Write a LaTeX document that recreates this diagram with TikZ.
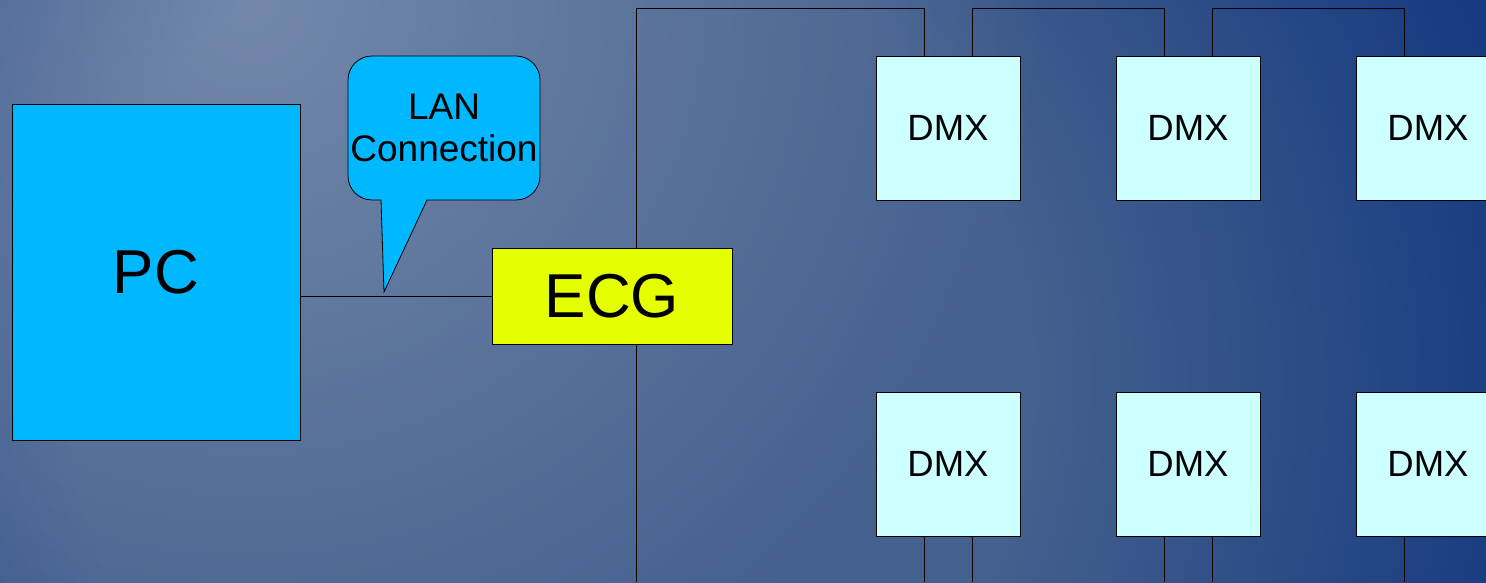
\documentclass[tikz,border=0pt]{standalone}
\usepackage{fontspec}
\setmainfont{Liberation Sans}
\usetikzlibrary{fadings,backgrounds}
\definecolor{bgmid}{HTML}{44608E}
\definecolor{bgdark}{HTML}{163A80}
\definecolor{pcblue}{HTML}{00B8FF}
\definecolor{ecgyellow}{HTML}{E6FF00}
\definecolor{dmxcyan}{HTML}{CCFFFF}
\pgfdeclareradialshading{bgrad}{\pgfpoint{0bp}{0bp}}{color(0bp)=(bgmid); color(12bp)=(bgmid); color(25bp)=(bgdark); color(50bp)=(bgdark)}
\tikzfading[name=spot, inner color=transparent!75, outer color=transparent!100]
\begin{document}
\begin{tikzpicture}[x=1pt,y=1pt,
  box/.style={draw=black, line width=0.8pt, inner sep=0pt, anchor=center},
  pcbox/.style={box, fill=pcblue, minimum width=288pt, minimum height=336pt, font=\fontsize{62}{62}\selectfont},
  ecgbox/.style={box, fill=ecgyellow, minimum width=240pt, minimum height=96pt, font=\fontsize{62}{62}\selectfont},
  dmxbox/.style={box, fill=dmxcyan, minimum width=144pt, minimum height=144pt, font=\fontsize{36.5}{36.5}\selectfont},
  wire/.style={draw=black, line width=0.9pt},
  callout/.style={draw=black, line width=0.8pt, fill=pcblue},
  lantext/.style={inner sep=0pt, align=center, font=\fontsize{37}{42.5}\selectfont}]
\useasboundingbox (0,0) rectangle (1486,582);

% nodes
\node[pcbox] (pc) at (156,310) {PC};
\node[ecgbox] (ecg) at (612,286) {ECG};
\node[dmxbox] (d1) at (948,454) {DMX};
\node[dmxbox] (d2) at (1188,454) {DMX};
\node[dmxbox] (d3) at (1428,454) {DMX};
\node[dmxbox] (d4) at (948,118) {DMX};
\node[dmxbox] (d5) at (1188,118) {DMX};
\node[dmxbox] (d6) at (1428,118) {DMX};

\coordinate (bus0) at (636,0);
\coordinate (bus1) at (636,574);

% callout
\draw[callout] (427,382) -- (516,382) arc[start angle=270, end angle=360, radius=24]
  -- (540,502) arc[start angle=0, end angle=90, radius=24]
  -- (372,526) arc[start angle=90, end angle=180, radius=24]
  -- (348,406) arc[start angle=180, end angle=270, radius=24]
  -- (381,382) -- (384,290) -- cycle;
\node[lantext] (lan) at (444,454) {LAN\\Connection};

\begin{scope}[on background layer]
  \begin{scope}
    \clip (0,0) rectangle (1486,582);
    \shade[shading=bgrad] (-450,-798) rectangle (1550,1202);
    \fill[white, path fading=spot] (250,582) circle (800);
  \end{scope}
  % wires
  \draw[wire] (ecg.west) -- (ecg.west -| pc.east);
  \draw[wire] (bus0) -- (bus1) -| ([xshift=-24pt]d1.north);
  \draw[wire] ([xshift=24pt]d1.north) -- ([xshift=24pt]d1.north |- bus1) -| ([xshift=-24pt]d2.north);
  \draw[wire] ([xshift=24pt]d2.north) -- ([xshift=24pt]d2.north |- bus1) -| ([xshift=-24pt]d3.north);
  \draw[wire] ([xshift=-24pt]d4.south) -- ([xshift=-24pt]d4.south |- bus0);
  \draw[wire] ([xshift=24pt]d4.south) -- ([xshift=24pt]d4.south |- bus0);
  \draw[wire] ([xshift=-24pt]d5.south) -- ([xshift=-24pt]d5.south |- bus0);
  \draw[wire] ([xshift=24pt]d5.south) -- ([xshift=24pt]d5.south |- bus0);
  \draw[wire] ([xshift=-24pt]d6.south) -- ([xshift=-24pt]d6.south |- bus0);
\end{scope}
\end{tikzpicture}
\end{document}
